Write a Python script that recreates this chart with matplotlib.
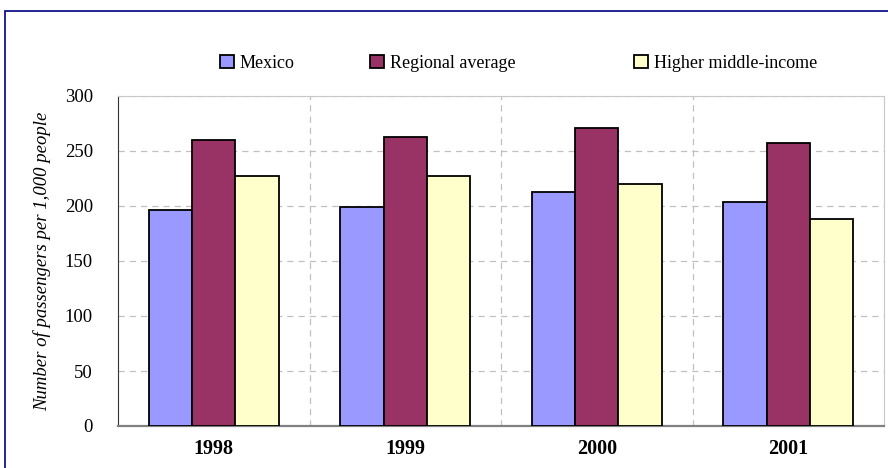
import numpy as np
import matplotlib.pyplot as plt
from matplotlib.patches import Rectangle

years = ["1998", "1999", "2000", "2001"]
mexico = [196, 199, 213, 204]
regional = [260, 263, 271, 257]
higher_mid = [227, 227, 220, 188]

series = [("Mexico", mexico, "#9999ff"),
          ("Regional average", regional, "#993366"),
          ("Higher middle-income", higher_mid, "#ffffcc")]

plt.rcParams["font.family"] = "Liberation Serif"

fig = plt.figure(figsize=(8.88, 4.68), dpi=100)
ax = fig.add_axes([118 / 888, 42 / 468, 766 / 888, 330 / 468])

x = np.arange(len(years))
w = 0.226
bars = []
for i, (name, vals, col) in enumerate(series):
    b = ax.bar(x + (i - 1) * w, vals, w, color=col, edgecolor="black",
               linewidth=1.3, label=name, zorder=3)
    bars.append(b)

ax.set_xlim(-0.5, len(years) - 0.5)
ax.set_ylim(0, 300)
ax.set_yticks(range(0, 301, 50))
ax.set_xticks(x)
ax.set_xticklabels(years, fontweight="bold", fontsize=14.5)
ax.tick_params(axis="y", labelsize=13.5, length=0, pad=18)
ax.tick_params(axis="x", length=0, pad=9)

# gridlines: horizontal at ticks, vertical between categories
ax.grid(axis="y", color="#c0c0c0", linestyle=(0, (5, 4)), linewidth=0.9, zorder=0)
ax.set_xticks(x[:-1] + 0.5, minor=True)
ax.grid(axis="x", which="minor", color="#c0c0c0", linestyle=(0, (5, 4)),
        linewidth=0.9, zorder=0)
ax.tick_params(axis="x", which="minor", length=0)

ax.spines["left"].set_color("#333333")
ax.spines["bottom"].set_color("#808080")
ax.spines["bottom"].set_linewidth(1.6)
for s in ["top", "right"]:
    ax.spines[s].set_color("#c8c8c8")

ax.set_ylabel("Number of passengers per 1,000 people", style="italic",
              fontsize=13.5, labelpad=10)

# legend entries sit at uneven spacing in the reference
legend_x = [220, 370, 634]
for b, (name, _, _), lx in zip(bars, series, legend_x):
    fig.legend([b], [name], loc="center left",
               bbox_to_anchor=(lx / 888, 1 - 63 / 468),
               frameon=False, fontsize=13, handlelength=0.75,
               handleheight=0.75, handletextpad=0.35,
               borderpad=0, borderaxespad=0)

# outer chart border (only left/top visible in the reference)
fig.patches.append(Rectangle((5 / 888, -0.1), 1.2, 1 - 11 / 468 + 0.1,
                             transform=fig.transFigure, fill=False,
                             edgecolor="#000080", linewidth=1.2))

plt.savefig("out.png", dpi=100)
